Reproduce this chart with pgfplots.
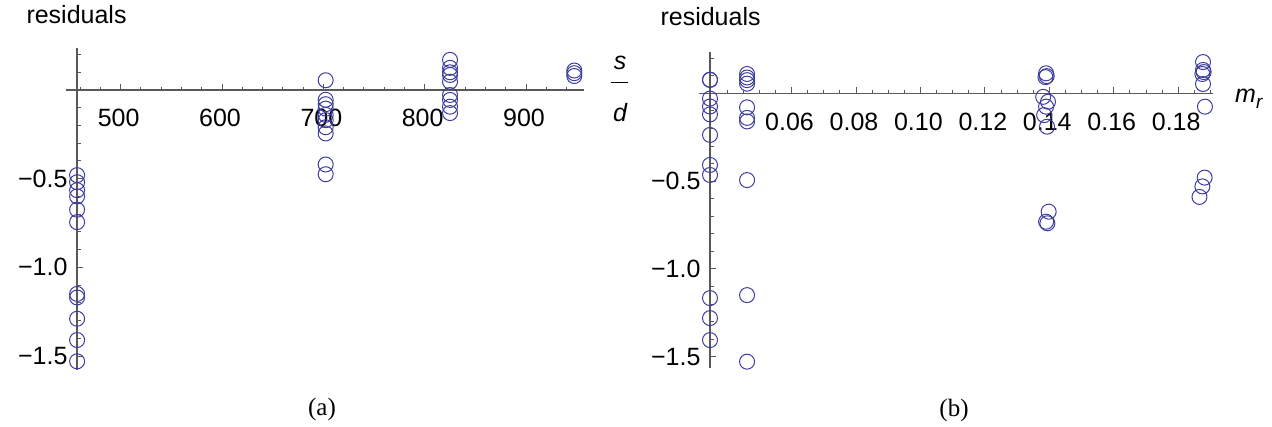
\documentclass[border=0pt]{standalone}
\usepackage{pgfplots}
\pgfplotsset{compat=1.18}
\usepackage{fontspec}
\setmainfont{Liberation Sans}
\newfontfamily\capfont{Liberation Serif}

\definecolor{ptblue}{RGB}{62,62,160}
\definecolor{axgray}{gray}{0.35}

\newcommand\bigfont{\fontsize{25bp}{30bp}\selectfont}

\pgfplotsset{
  resid/.style={
    scale only axis,
    axis x line=middle,
    axis y line=left,
    axis line style={-, axgray, line width=1.1bp},
    every inner x axis line/.append style={-},
    every outer x axis line/.append style={-},
    every inner y axis line/.append style={-},
    every outer y axis line/.append style={-},
    x axis line style={shorten <=-11bp},
    tick style={axgray, line width=0.9bp},
    tick align=inside,
    major tick length=6bp,
    minor tick length=3.5bp,
    tick label style={font=\bigfont, text=black},
    /pgf/number format/assume math mode=true,
    yticklabel style={xshift=-6bp},
    xticklabel style={yshift=-16bp, xshift=-2bp},
    ytick={-1.5,-1,-0.5},
    yticklabels={−1.5,−1.0,−0.5},
    minor ytick={0.2,0.1,-0.1,-0.2,-0.3,-0.4,-0.6,-0.7,-0.8,-0.9,-1.1,-1.2,-1.3,-1.4},
    clip=false,
  },
  resmark/.style={only marks, mark=o, mark size=7.5bp, ptblue,
    mark options={line width=1bp}},
}

\begin{document}
\begin{tikzpicture}
\useasboundingbox (0bp,0bp) rectangle (1272bp,427bp);

% residuals against s/d
\begin{axis}[resid,
  at={(77bp,57bp)}, anchor=south west,
  width=507bp, height=322bp,
  xmin=456.9, xmax=957.2, ymin=-1.579, ymax=0.237,
  xtick={500,600,700,800,900},
  xticklabels={500,600,700,800,900},
  minor xtick={460,480,520,540,560,580,620,640,660,680,720,740,760,780,820,840,860,880,920,940},
]
\addplot[resmark] coordinates {
  (457,-0.48) (457,-0.52) (457,-0.565) (457,-0.60) (457,-0.675) (457,-0.745)
  (457,-1.15) (457,-1.17) (457,-1.29) (457,-1.41) (457,-1.53)
  (702.3,0.055) (702.3,-0.055) (702.3,-0.08) (702.3,-0.105) (702.3,-0.14)
  (702.3,-0.17) (702.3,-0.21) (702.3,-0.245) (702.3,-0.42) (702.3,-0.475)
  (825,0.17) (825,0.125) (825,0.10) (825,0.085) (825,0.047)
  (825,-0.028) (825,-0.056) (825,-0.094) (825,-0.13)
  (947.6,0.11) (947.6,0.095) (947.6,0.079)
};
\end{axis}

% residuals against m_r
\begin{axis}[resid,
  at={(710bp,59bp)}, anchor=south west,
  width=503bp, height=316.3bp,
  xmin=0.0347, xmax=0.1908, ymin=-1.564, ymax=0.237,
  xtick={0.06,0.08,0.10,0.12,0.14,0.16,0.18},
  xticklabels={0.06,0.08,0.10,0.12,0.14,0.16,0.18},
  minor xtick={0.04,0.045,0.05,0.055,0.065,0.07,0.075,0.085,0.09,0.095,0.105,0.11,0.115,0.125,0.13,0.135,0.145,0.15,0.155,0.165,0.17,0.175,0.185,0.19},
]
\addplot[resmark] coordinates {
  (0.0347,0.076) (0.0347,0.078) (0.0347,-0.03) (0.0347,-0.075) (0.0347,-0.12)
  (0.0347,-0.237) (0.0347,-0.408) (0.0347,-0.465)
  (0.0347,-1.166) (0.0347,-1.28) (0.0347,-1.405)
  (0.0462,0.11) (0.0462,0.09) (0.0462,0.075) (0.0462,0.055)
  (0.0462,-0.08) (0.0462,-0.14) (0.0462,-0.16) (0.0462,-0.494)
  (0.0462,-1.149) (0.0462,-1.528)
  (0.1390,0.114) (0.1392,0.098) (0.1388,0.092) (0.1381,-0.02) (0.1396,-0.048)
  (0.1390,-0.076) (0.1384,-0.124) (0.1393,-0.19)
  (0.1398,-0.674) (0.1390,-0.731) (0.1394,-0.74)
  (0.1877,0.178) (0.1877,0.133) (0.1879,0.121) (0.1875,0.11) (0.1877,0.053)
  (0.1883,-0.076) (0.1882,-0.48) (0.1875,-0.53) (0.1866,-0.59)
};
\end{axis}

% axis titles and captions
\node[anchor=base west, font=\bigfont] at (23bp,403bp) {residuals};
\node[anchor=base west, font=\bigfont] at (657bp,401bp) {residuals};
\node[anchor=base, font=\bigfont\itshape] at (620bp,357bp) {s};
\draw[line width=1.2bp] (611bp,344.3bp) -- (628bp,344.3bp);
\node[anchor=base, font=\bigfont\itshape] at (620bp,305bp) {d};
\node[anchor=base west, font=\bigfont\itshape, inner sep=0pt] at (1235bp,324bp)
  {m\raisebox{-6bp}{\fontsize{19bp}{21bp}\selectfont r}};
\node[font=\capfont\bigfont] at (322bp,18bp) {(a)};
\node[font=\capfont\bigfont] at (954bp,17bp) {(b)};
\end{tikzpicture}
\end{document}
